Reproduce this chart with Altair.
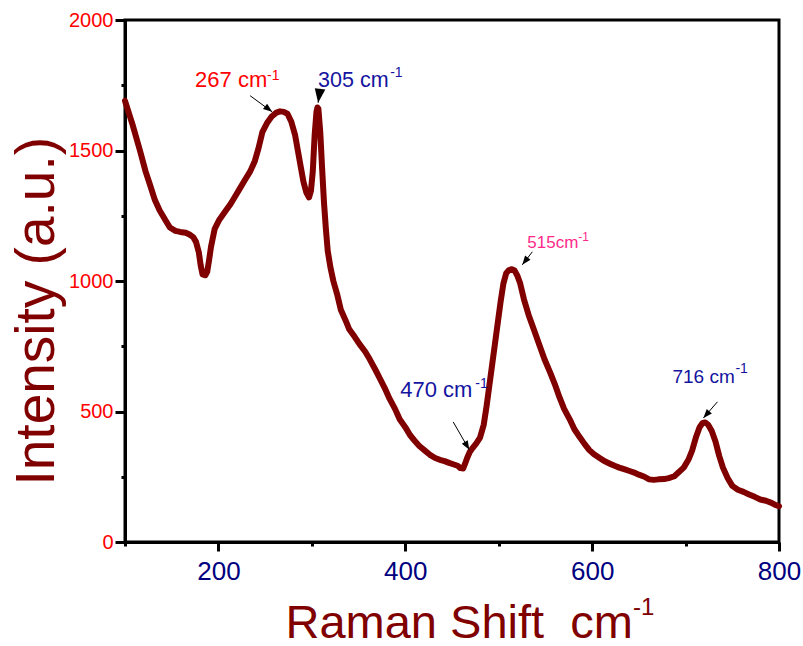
import altair as alt
import pandas as pd

# ---- spectrum ----
shift = [100,108,116,122,127,132,137,143,148,154,159,165,169,173,176,179,181,183,186,188,190,192,196,201,207,213,218,223,228,234,239,243,247,252,257,262,266,270,274,278,282,285,288,291,294,297,299,301,303,305,306,307,309,311,313,315,317,320,323,327,331,336,340,346,351,357,362,368,373,378,383,389,394,400,405,410,415,421,426,432,437,442,447,452,456,459,462,464,466,469,472,476,480,484,487,490,493,496,499,502,505,508,511,514,517,520,523,527,532,538,544,549,555,560,565,570,576,581,587,592,597,602,608,613,619,624,629,635,640,645,650,656,661,666,671,677,682,688,692,698,703,707,711,715,718,721,724,728,732,736,740,745,750,756,762,768,774,780,786,792,796,800]
intensity = [1690,1600,1500,1420,1366,1310,1271,1235,1205,1192,1188,1185,1178,1168,1150,1110,1060,1025,1022,1035,1080,1130,1200,1235,1265,1295,1325,1355,1385,1420,1460,1510,1570,1605,1630,1645,1650,1648,1640,1610,1560,1500,1440,1380,1340,1320,1345,1420,1560,1650,1665,1660,1570,1430,1300,1200,1115,1050,1000,950,890,850,815,785,758,730,700,660,625,590,550,510,470,440,410,388,368,350,335,322,315,310,303,297,292,283,282,300,320,345,360,378,400,450,520,600,680,760,840,920,990,1030,1042,1045,1040,1020,990,930,870,810,750,700,650,605,555,510,470,432,400,375,352,336,322,310,300,292,285,278,272,266,258,250,240,238,240,241,245,252,265,285,315,350,400,440,455,458,450,425,385,330,285,245,215,200,192,182,173,163,158,150,142,137]

# ---- peak annotations ----
ann_text = ["267 cm", "305 cm", "470 cm", "515cm", "716 cm"]
ann_color = ["#FF0000", "#1414A0", "#1414A0", "#FF2A8A", "#1414A0"]
ann_x = [175.0, 306.7, 394.6, 530.6, 685.9]
ann_y = [1744, 1744, 556, 1127, 609]
sup_text = ["-1", "-1", "-1", "-1", "-1"]
sup_x = [252.1, 383.8, 474.9, 585.2, 753.4]
sup_y = [1771, 1782, 590, 1154, 648]
arrow_x0 = [233.9, 308.9, 451.3, 536.0, 734.1]
arrow_y0 = [1710, 1736, 460, 1112, 537]
arrow_x1 = [257.5, 306.7, 468.5, 525.2, 719.1]
arrow_y1 = [1648, 1683, 353, 1062, 475]
arrow_angle = [128, 188, 150, 218, 221]
arrow_size = [324, 784, 324, 324, 324]

df = pd.DataFrame({"shift": shift, "intensity": intensity})
ann = pd.DataFrame({
    "text": ann_text, "color": ann_color, "x": ann_x, "y": ann_y,
    "sup": sup_text, "sx": sup_x, "sy": sup_y,
    "x0": arrow_x0, "y0": arrow_y0, "x1": arrow_x1, "y1": arrow_y1,
    "angle": arrow_angle, "size": arrow_size,
    "fs": [22, 21.5, 22, 17, 19], "sfs": [14, 14, 14, 12, 14],
})

FONT = "Liberation Sans"
xscale = alt.Scale(domain=[100, 800], nice=False, zero=False)
yscale = alt.Scale(domain=[0, 2000], nice=False, zero=False)

xaxis = alt.Axis(
    values=[100, 200, 300, 400, 500, 600, 700, 800],
    labelExpr="datum.value % 200 == 0 ? datum.label : ''",
    tickSize={"condition": {"test": "datum.value % 200 == 0", "value": 9}, "value": 4},
    tickWidth=3, tickColor="black", domainColor="black", domainWidth=3,
    labelFont=FONT, labelFontSize=26, labelColor="#000080", labelPadding=7,
    labelFlush=False, labelOverlap=False, grid=False, format="d",
    title="Raman Shift\u00a0\u00a0cm", titleFont=FONT, titleFontSize=47,
    titleFontWeight="normal", titleColor="#800000",
    titleX=160, titleY=95, titleAlign="left", titleBaseline="alphabetic",
)
yaxis = alt.Axis(
    values=[0, 250, 500, 750, 1000, 1250, 1500, 1750, 2000],
    labelExpr="datum.value % 500 == 0 ? datum.label : ''",
    tickSize={"condition": {"test": "datum.value % 500 == 0", "value": 10}, "value": 4},
    tickWidth=3, tickColor="black", domainColor="black", domainWidth=3,
    labelFont=FONT, labelFontSize=20, labelColor="#FF0000", labelPadding=2,
    labelFlush=False, labelOverlap=False, grid=False, format="d",
    title="Intensity (a.u.)", titleFont=FONT, titleFontSize=55,
    titleFontWeight="normal", titleColor="#800000", titleAngle=270,
    titleX=-72, titleY=465, titleAlign="left", titleBaseline="alphabetic",
)

line = alt.Chart(df).mark_line(color="#800000", strokeWidth=6, strokeCap="round",
                               strokeJoin="round").encode(
    x=alt.X("shift:Q", scale=xscale, axis=xaxis),
    y=alt.Y("intensity:Q", scale=yscale, axis=yaxis),
)

base = alt.Chart(ann)
shafts = base.mark_rule(color="black", strokeWidth=1).encode(
    x=alt.X("x0:Q", scale=xscale), y=alt.Y("y0:Q", scale=yscale),
    x2="x1:Q", y2="y1:Q",
)
heads = base.mark_point(shape="M0,0 L0.38,1 L-0.38,1 Z", filled=True, color="black",
                        opacity=1, strokeWidth=0).encode(
    x=alt.X("x1:Q", scale=xscale), y=alt.Y("y1:Q", scale=yscale),
    angle=alt.Angle("angle:Q", scale=None),
    size=alt.Size("size:Q", scale=None),
)
labels = base.mark_text(align="left", baseline="alphabetic", font=FONT).encode(
    x=alt.X("x:Q", scale=xscale), y=alt.Y("y:Q", scale=yscale),
    text="text:N", color=alt.Color("color:N", scale=None),
    size=alt.Size("fs:Q", scale=None),
)
sups = base.mark_text(align="left", baseline="alphabetic", font=FONT).encode(
    x=alt.X("sx:Q", scale=xscale), y=alt.Y("sy:Q", scale=yscale),
    text="sup:N", color=alt.Color("color:N", scale=None),
    size=alt.Size("sfs:Q", scale=None),
)
# superscript of the x-axis title
title_sup = alt.Chart(pd.DataFrame({"t": ["-1"]})).mark_text(
    align="left", baseline="alphabetic", font=FONT, fontSize=24, color="#800000"
).encode(x=alt.value(508), y=alt.value(595), text="t:N")

chart = alt.layer(line, shafts, heads, labels, sups, title_sup).properties(
    width=654, height=522,
    padding={"left": 125, "top": 20, "right": 24, "bottom": 104},
    autosize=alt.AutoSizeParams(type="none"),
    background="white",
).configure_view(stroke="black", strokeWidth=3)

chart.save("out.html", embed_options={"renderer": "svg", "actions": False})
